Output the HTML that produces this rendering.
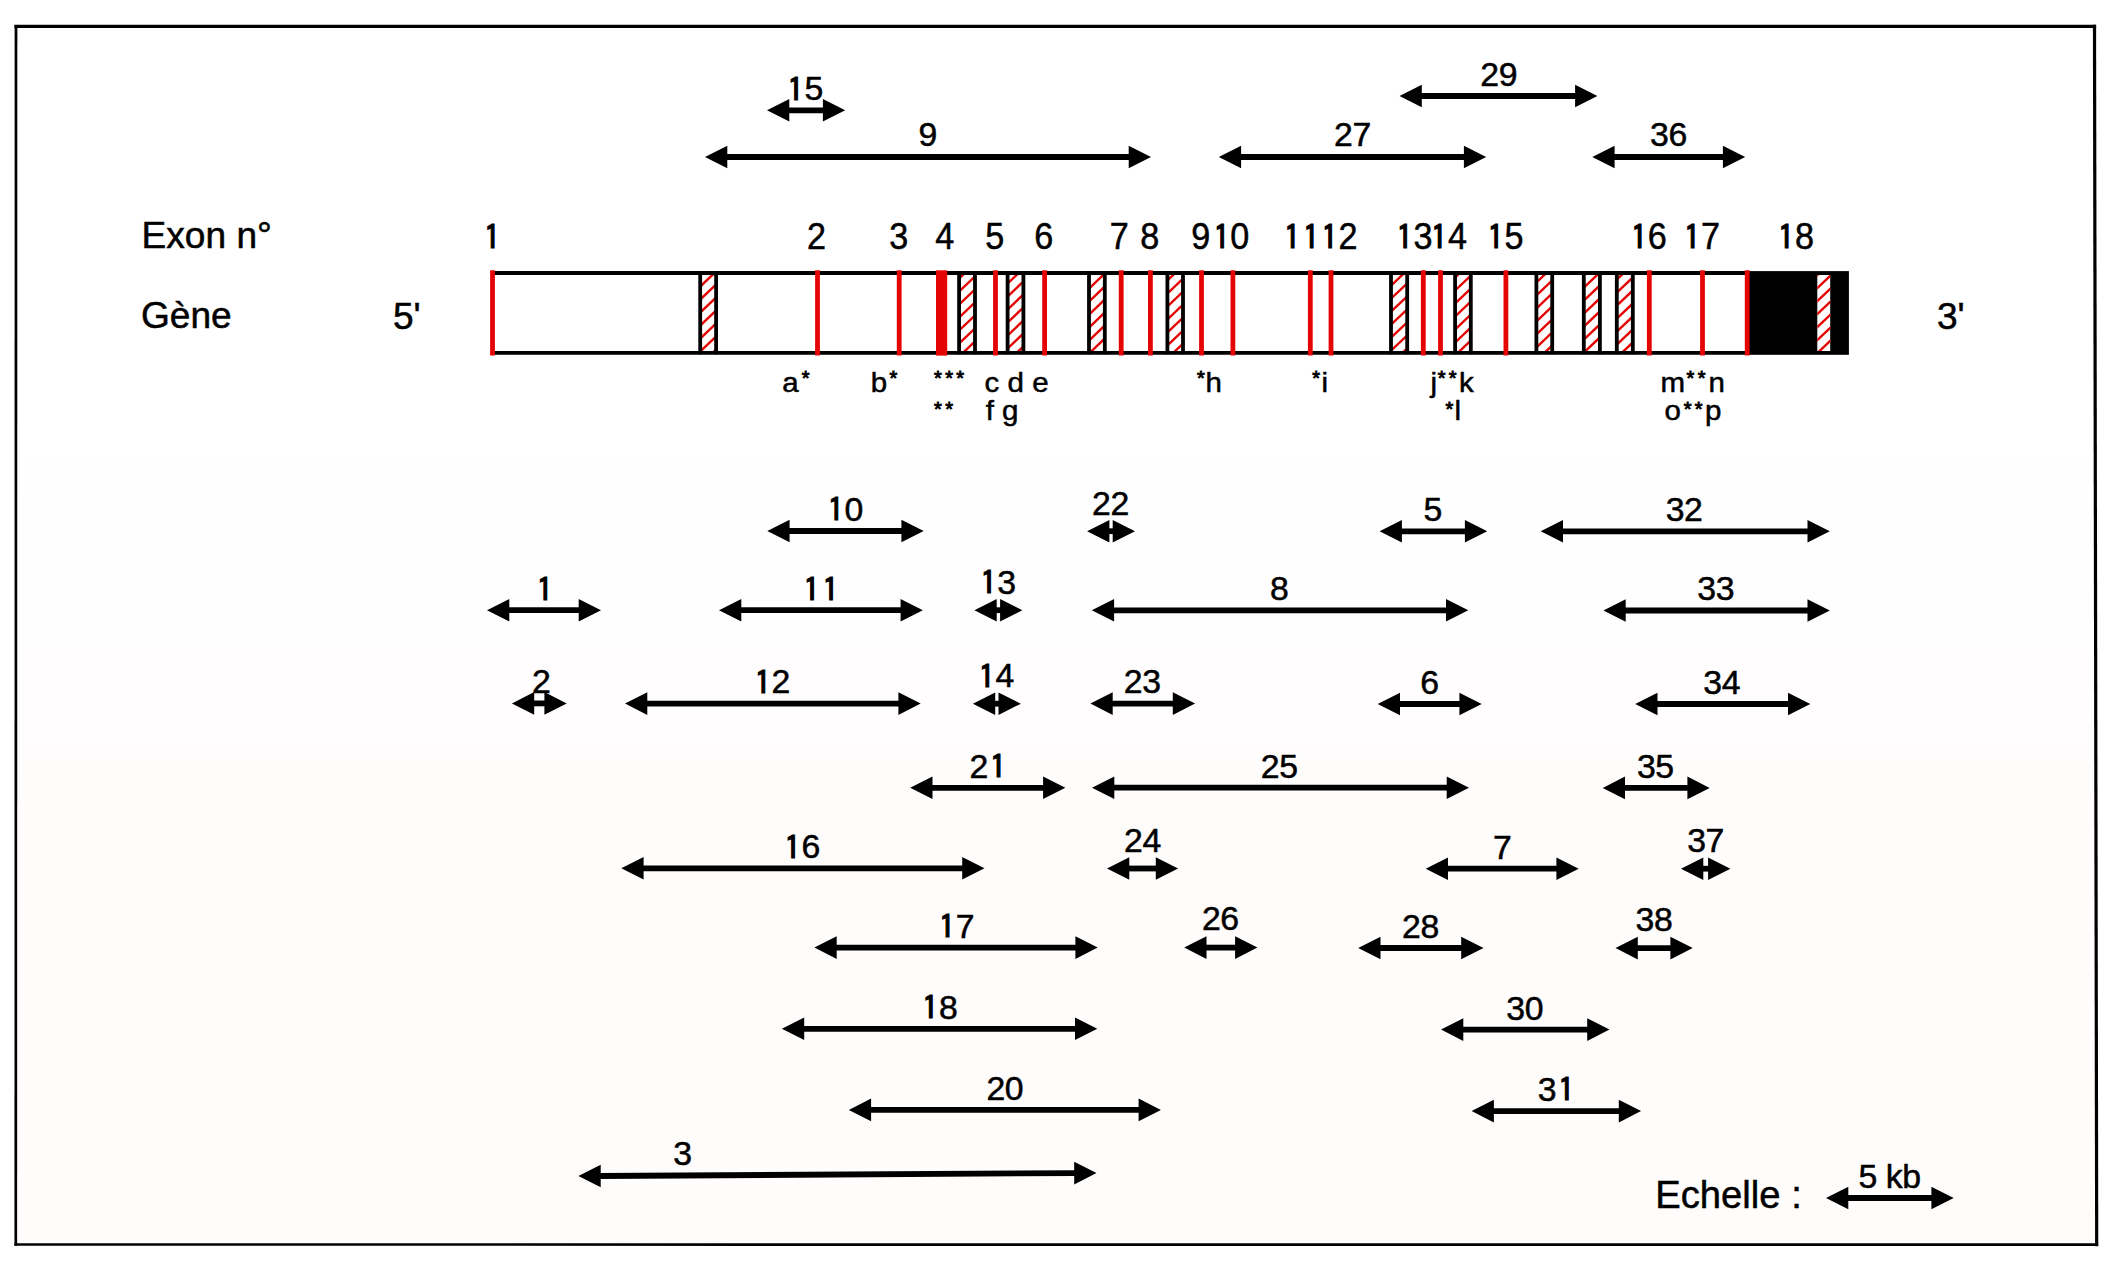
<!DOCTYPE html>
<html lang="fr"><head><meta charset="utf-8"><title>Carte du gène</title>
<style>html,body{margin:0;padding:0;background:#fff;}body{width:2120px;height:1268px;overflow:hidden;}svg{display:block;}text{font-family:"Liberation Sans", sans-serif;fill:#000;stroke:#000;stroke-width:0.5px;white-space:pre;}.ex{font-size:36px;letter-spacing:-1.2px;}.big{font-size:36px;}.ech{font-size:38.2px;}.an{font-size:32.5px;letter-spacing:-0.4px;}.sm{font-size:27.2px;}.st{font-size:20px;letter-spacing:3.4px;stroke-width:0.9px;}.one{font-family:"IPAGothic","Liberation Sans",sans-serif;stroke-width:1.1px;letter-spacing:0.4px;}</style></head><body>
<svg width="2120" height="1268" viewBox="0 0 2120 1268">
<rect width="2120" height="1268" fill="#fff"/>
<defs><linearGradient id="tint" x1="0" y1="0" x2="0" y2="1"><stop offset="0" stop-color="#ffdcdc" stop-opacity="0"/><stop offset="0.45" stop-color="#ffdcdc" stop-opacity="0.09"/><stop offset="1" stop-color="#ffdcdc" stop-opacity="0.09"/></linearGradient></defs>
<rect x="18" y="440" width="2077" height="803" fill="url(#tint)"/>
<g stroke="#000" fill="none" stroke-linecap="square"><path d="M16 26.4L2094.5 26.4" stroke-width="3.2"/><path d="M2094.5 26.4L2096.7 1244.6" stroke-width="3.2"/><path d="M2096.7 1244.6L15.8 1244.5" stroke-width="2.7"/><path d="M15.8 1244.5L16 26.4" stroke-width="2.7"/></g>
<text class="big" transform="translate(141.6 247.9) scale(1.03 1)">Exon n°</text>
<text class="big" transform="translate(141.0 328.4) scale(1.03 1)">Gène</text>
<text class="big" transform="translate(393.0 329.3) scale(1.03 1)">5'</text>
<text class="big" transform="translate(1937.0 329.0) scale(1.03 1)">3'</text>
<text class="ex" transform="translate(481.8 248.6) scale(0.95 1)"><tspan class="one" style="font-size:35.39px" dx="1.98" dy="1.8">1</tspan></text>
<text class="ex" transform="translate(807.1 248.6) scale(0.95 1)">2</text>
<text class="ex" transform="translate(889.2 248.6) scale(0.95 1)">3</text>
<text class="ex" transform="translate(935.2 248.6) scale(0.95 1)">4</text>
<text class="ex" transform="translate(985.2 248.6) scale(0.95 1)">5</text>
<text class="ex" transform="translate(1034.3 248.6) scale(0.95 1)">6</text>
<text class="ex" transform="translate(1109.7 248.6) scale(0.95 1)">7</text>
<text class="ex" transform="translate(1140.3 248.6) scale(0.95 1)">8</text>
<text class="ex" transform="translate(1191.2 248.6) scale(0.95 1)">9</text>
<text class="ex" transform="translate(1211.3 248.6) scale(0.95 1)"><tspan class="one" style="font-size:35.39px" dx="1.98" dy="1.8">1</tspan><tspan dy="-1.8">0</tspan></text>
<text class="ex" transform="translate(1281.8 248.6) scale(0.95 1)"><tspan class="one" style="font-size:35.39px" dx="1.98" dy="1.8">1</tspan><tspan class="one" style="font-size:35.39px" dx="1.98">1</tspan></text>
<text class="ex" transform="translate(1319.4 248.6) scale(0.95 1)"><tspan class="one" style="font-size:35.39px" dx="1.98" dy="1.8">1</tspan><tspan dy="-1.8">2</tspan></text>
<text class="ex" transform="translate(1394.4 248.6) scale(0.95 1)"><tspan class="one" style="font-size:35.39px" dx="1.98" dy="1.8">1</tspan><tspan dy="-1.8">3</tspan></text>
<text class="ex" transform="translate(1429.0 248.6) scale(0.95 1)"><tspan class="one" style="font-size:35.39px" dx="1.98" dy="1.8">1</tspan><tspan dy="-1.8">4</tspan></text>
<text class="ex" transform="translate(1485.4 248.6) scale(0.95 1)"><tspan class="one" style="font-size:35.39px" dx="1.98" dy="1.8">1</tspan><tspan dy="-1.8">5</tspan></text>
<text class="ex" transform="translate(1628.8 248.6) scale(0.95 1)"><tspan class="one" style="font-size:35.39px" dx="1.98" dy="1.8">1</tspan><tspan dy="-1.8">6</tspan></text>
<text class="ex" transform="translate(1681.9 248.6) scale(0.95 1)"><tspan class="one" style="font-size:35.39px" dx="1.98" dy="1.8">1</tspan><tspan dy="-1.8">7</tspan></text>
<text class="ex" transform="translate(1775.9 248.6) scale(0.95 1)"><tspan class="one" style="font-size:35.39px" dx="1.98" dy="1.8">1</tspan><tspan dy="-1.8">8</tspan></text>
<defs>
<clipPath id="h0"><rect x="700.2" y="273.0" width="15.9" height="79.8"/></clipPath>
<clipPath id="h1"><rect x="959.1" y="273.0" width="15.9" height="79.8"/></clipPath>
<clipPath id="h2"><rect x="1007.6" y="273.0" width="15.8" height="79.8"/></clipPath>
<clipPath id="h3"><rect x="1089.0" y="273.0" width="15.8" height="79.8"/></clipPath>
<clipPath id="h4"><rect x="1167.4" y="273.0" width="15.6" height="79.8"/></clipPath>
<clipPath id="h5"><rect x="1391.0" y="273.0" width="16.2" height="79.8"/></clipPath>
<clipPath id="h6"><rect x="1455.1" y="273.0" width="15.7" height="79.8"/></clipPath>
<clipPath id="h7"><rect x="1536.4" y="273.0" width="15.8" height="79.8"/></clipPath>
<clipPath id="h8"><rect x="1583.8" y="273.0" width="16.1" height="79.8"/></clipPath>
<clipPath id="h9"><rect x="1616.8" y="273.0" width="16.0" height="79.8"/></clipPath>
<clipPath id="hk"><rect x="1817.3" y="275" width="12.9" height="76"/></clipPath>
</defs>
<rect x="1748.5" y="271.1" width="100.4" height="83.7" fill="#000"/>
<rect x="1817.3" y="275" width="12.9" height="76" fill="#fff"/>
<path d="M1814.3 265.0L1833.2 247.0M1814.3 278.0L1833.2 260.0M1814.3 291.0L1833.2 273.0M1814.3 304.0L1833.2 286.0M1814.3 317.0L1833.2 299.0M1814.3 330.0L1833.2 312.0M1814.3 343.0L1833.2 325.0M1814.3 356.0L1833.2 338.0M1814.3 369.0L1833.2 351.0M1814.3 382.0L1833.2 364.0" stroke="#e50404" stroke-width="2.4" fill="none" clip-path="url(#hk)"/>
<path d="M697.2 263.4L719.1 242.6M697.2 276.4L719.1 255.6M697.2 289.4L719.1 268.6M697.2 302.4L719.1 281.6M697.2 315.4L719.1 294.6M697.2 328.4L719.1 307.6M697.2 341.4L719.1 320.6M697.2 354.4L719.1 333.6M697.2 367.4L719.1 346.6M697.2 380.4L719.1 359.6" stroke="#e50404" stroke-width="2.4" fill="none" clip-path="url(#h0)"/>
<path d="M956.1 268.4L978.0 247.6M956.1 281.4L978.0 260.6M956.1 294.4L978.0 273.6M956.1 307.4L978.0 286.6M956.1 320.4L978.0 299.6M956.1 333.4L978.0 312.6M956.1 346.4L978.0 325.6M956.1 359.4L978.0 338.6M956.1 372.4L978.0 351.6M956.1 385.4L978.0 364.6" stroke="#e50404" stroke-width="2.4" fill="none" clip-path="url(#h1)"/>
<path d="M1004.6 273.4L1026.4 252.6M1004.6 286.4L1026.4 265.6M1004.6 299.4L1026.4 278.6M1004.6 312.4L1026.4 291.6M1004.6 325.4L1026.4 304.6M1004.6 338.4L1026.4 317.6M1004.6 351.4L1026.4 330.6M1004.6 364.4L1026.4 343.6M1004.6 377.4L1026.4 356.6M1004.6 390.4L1026.4 369.6" stroke="#e50404" stroke-width="2.4" fill="none" clip-path="url(#h2)"/>
<path d="M1086.0 265.4L1107.8 244.6M1086.0 278.4L1107.8 257.6M1086.0 291.4L1107.8 270.6M1086.0 304.4L1107.8 283.6M1086.0 317.4L1107.8 296.6M1086.0 330.4L1107.8 309.6M1086.0 343.4L1107.8 322.6M1086.0 356.4L1107.8 335.6M1086.0 369.4L1107.8 348.6M1086.0 382.4L1107.8 361.6" stroke="#e50404" stroke-width="2.4" fill="none" clip-path="url(#h3)"/>
<path d="M1164.4 270.3L1186.0 249.7M1164.4 283.3L1186.0 262.7M1164.4 296.3L1186.0 275.7M1164.4 309.3L1186.0 288.7M1164.4 322.3L1186.0 301.7M1164.4 335.3L1186.0 314.7M1164.4 348.3L1186.0 327.7M1164.4 361.3L1186.0 340.7M1164.4 374.3L1186.0 353.7M1164.4 387.3L1186.0 366.7" stroke="#e50404" stroke-width="2.4" fill="none" clip-path="url(#h4)"/>
<path d="M1388.0 275.5L1410.2 254.5M1388.0 288.5L1410.2 267.5M1388.0 301.5L1410.2 280.5M1388.0 314.5L1410.2 293.5M1388.0 327.5L1410.2 306.5M1388.0 340.5L1410.2 319.5M1388.0 353.5L1410.2 332.5M1388.0 366.5L1410.2 345.5M1388.0 379.5L1410.2 358.5M1388.0 392.5L1410.2 371.5" stroke="#e50404" stroke-width="2.4" fill="none" clip-path="url(#h5)"/>
<path d="M1452.1 267.3L1473.8 246.7M1452.1 280.3L1473.8 259.7M1452.1 293.3L1473.8 272.7M1452.1 306.3L1473.8 285.7M1452.1 319.3L1473.8 298.7M1452.1 332.3L1473.8 311.7M1452.1 345.3L1473.8 324.7M1452.1 358.3L1473.8 337.7M1452.1 371.3L1473.8 350.7M1452.1 384.3L1473.8 363.7" stroke="#e50404" stroke-width="2.4" fill="none" clip-path="url(#h6)"/>
<path d="M1533.4 272.4L1555.2 251.6M1533.4 285.4L1555.2 264.6M1533.4 298.4L1555.2 277.6M1533.4 311.4L1555.2 290.6M1533.4 324.4L1555.2 303.6M1533.4 337.4L1555.2 316.6M1533.4 350.4L1555.2 329.6M1533.4 363.4L1555.2 342.6M1533.4 376.4L1555.2 355.6M1533.4 389.4L1555.2 368.6" stroke="#e50404" stroke-width="2.4" fill="none" clip-path="url(#h7)"/>
<path d="M1580.8 264.5L1602.9 243.5M1580.8 277.5L1602.9 256.5M1580.8 290.5L1602.9 269.5M1580.8 303.5L1602.9 282.5M1580.8 316.5L1602.9 295.5M1580.8 329.5L1602.9 308.5M1580.8 342.5L1602.9 321.5M1580.8 355.5L1602.9 334.5M1580.8 368.5L1602.9 347.5M1580.8 381.5L1602.9 360.5" stroke="#e50404" stroke-width="2.4" fill="none" clip-path="url(#h8)"/>
<path d="M1613.8 269.4L1635.8 248.6M1613.8 282.4L1635.8 261.6M1613.8 295.4L1635.8 274.6M1613.8 308.4L1635.8 287.6M1613.8 321.4L1635.8 300.6M1613.8 334.4L1635.8 313.6M1613.8 347.4L1635.8 326.6M1613.8 360.4L1635.8 339.6M1613.8 373.4L1635.8 352.6M1613.8 386.4L1635.8 365.6" stroke="#e50404" stroke-width="2.4" fill="none" clip-path="url(#h9)"/>
<path d="M492.0 273.0H1750M492.0 352.8H1750" stroke="#000" stroke-width="3.8" fill="none"/>
<path d="M700.2 271.6V354.3M716.1 271.6V354.3M959.1 271.6V354.3M975.0 271.6V354.3M1007.6 271.6V354.3M1023.4 271.6V354.3M1089.0 271.6V354.3M1104.8 271.6V354.3M1167.4 271.6V354.3M1183.0 271.6V354.3M1391.0 271.6V354.3M1407.2 271.6V354.3M1455.1 271.6V354.3M1470.8 271.6V354.3M1536.4 271.6V354.3M1552.2 271.6V354.3M1583.8 271.6V354.3M1599.9 271.6V354.3M1616.8 271.6V354.3M1632.8 271.6V354.3" stroke="#000" stroke-width="3.8" fill="none"/>
<path d="M492.5 270.3V355.6M817.5 270.3V355.6M899.2 270.3V355.6M995.5 270.3V355.6M1044.6 270.3V355.6M1121.2 270.3V355.6M1150.4 270.3V355.6M1201.5 270.3V355.6M1232.9 270.3V355.6M1310.3 270.3V355.6M1331.0 270.3V355.6M1423.3 270.3V355.6M1440.5 270.3V355.6M1505.9 270.3V355.6M1649.3 270.3V355.6M1702.5 270.3V355.6M1747.2 270.3V355.6" stroke="#e50404" stroke-width="4.8" fill="none"/>
<rect x="936" y="270.3" width="11.2" height="85.3" fill="#e50404"/>
<text class="sm" transform="translate(782.2 391.6) scale(1.085 1)">a</text>
<text class="st" x="801.7" y="385.3">*</text>
<text class="sm" transform="translate(870.7 391.6) scale(1.085 1)">b</text>
<text class="st" x="889.5" y="385.3">*</text>
<text class="st" x="934.0" y="385.3">***</text>
<text class="sm" transform="translate(984.6 391.6) scale(1.085 1)">c d e</text>
<text class="st" x="1196.9" y="385.3">*</text>
<text class="sm" transform="translate(1205.6 391.6) scale(1.085 1)">h</text>
<text class="st" x="1312.2" y="385.3">*</text>
<text class="sm" transform="translate(1321.6 391.6) scale(1.085 1)">i</text>
<text class="sm" transform="translate(1430.5 391.6) scale(1.085 1)">j</text>
<text class="st" x="1437.7" y="385.3">**</text>
<text class="sm" transform="translate(1458.9 391.6) scale(1.085 1)">k</text>
<text class="sm" transform="translate(1660.4 391.6) scale(1.085 1)">m</text>
<text class="st" x="1686.5" y="385.3">**</text>
<text class="sm" transform="translate(1708.5 391.6) scale(1.085 1)">n</text>
<text class="st" x="934.0" y="415.7">**</text>
<text class="sm" transform="translate(985.7 420.4) scale(1.085 1)">f g</text>
<text class="st" x="1445.6" y="415.7">*</text>
<text class="sm" transform="translate(1454.6 420.4) scale(1.085 1)">l</text>
<text class="sm" transform="translate(1664.6 420.4) scale(1.085 1)">o</text>
<text class="st" x="1683.7" y="415.7">**</text>
<text class="sm" transform="translate(1704.9 420.4) scale(1.085 1)">p</text>
<path d="M1420.8 96.0L1576.1 96.0" stroke="#000" stroke-width="5.8" fill="none"/>
<path d="M1399.5 96.0l22.3 -11.3v22.6zM1597.4 96.0l-22.3 -11.3v22.6z" fill="#000"/>
<text class="an" transform="translate(1480.3 86.0) scale(1.04 1)">29</text>
<path d="M788.3 110.3L823.9 110.3" stroke="#000" stroke-width="5.8" fill="none"/>
<path d="M767.0 110.3l22.3 -11.3v22.6zM845.2 110.3l-22.3 -11.3v22.6z" fill="#000"/>
<text class="an" transform="translate(785.5 100.1) scale(1.04 1)"><tspan class="one" style="font-size:31.95px" dx="1.79" dy="1.63">1</tspan><tspan dy="-1.63">5</tspan></text>
<path d="M726.3 157.0L1129.7 157.0" stroke="#000" stroke-width="5.8" fill="none"/>
<path d="M705.0 157.0l22.3 -11.3v22.6zM1151.0 157.0l-22.3 -11.3v22.6z" fill="#000"/>
<text class="an" transform="translate(918.5 146.3) scale(1.04 1)">9</text>
<path d="M1240.1 157.0L1464.9 157.0" stroke="#000" stroke-width="5.8" fill="none"/>
<path d="M1218.8 157.0l22.3 -11.3v22.6zM1486.2 157.0l-22.3 -11.3v22.6z" fill="#000"/>
<text class="an" transform="translate(1334.1 146.3) scale(1.04 1)">27</text>
<path d="M1613.6 157.0L1723.9 157.0" stroke="#000" stroke-width="5.8" fill="none"/>
<path d="M1592.3 157.0l22.3 -11.3v22.6zM1745.2 157.0l-22.3 -11.3v22.6z" fill="#000"/>
<text class="an" transform="translate(1650.1 146.3) scale(1.04 1)">36</text>
<path d="M788.6 531.0L902.4 531.0" stroke="#000" stroke-width="5.8" fill="none"/>
<path d="M767.3 531.0l22.3 -11.3v22.6zM923.7 531.0l-22.3 -11.3v22.6z" fill="#000"/>
<text class="an" transform="translate(825.6 520.6) scale(1.04 1)"><tspan class="one" style="font-size:31.95px" dx="1.79" dy="1.63">1</tspan><tspan dy="-1.63">0</tspan></text>
<path d="M1108.4 531.2L1113.7 531.2" stroke="#000" stroke-width="5.8" fill="none"/>
<path d="M1087.1 531.2l22.3 -11.3v22.6zM1135.0 531.2l-22.3 -11.3v22.6z" fill="#000"/>
<text class="an" transform="translate(1092.1 514.7) scale(1.04 1)">22</text>
<path d="M1400.9 531.3L1465.9 531.3" stroke="#000" stroke-width="5.8" fill="none"/>
<path d="M1379.6 531.3l22.3 -11.3v22.6zM1487.2 531.3l-22.3 -11.3v22.6z" fill="#000"/>
<text class="an" transform="translate(1423.6 521.0) scale(1.04 1)">5</text>
<path d="M1562.0 531.3L1808.5 531.3" stroke="#000" stroke-width="5.8" fill="none"/>
<path d="M1540.7 531.3l22.3 -11.3v22.6zM1829.8 531.3l-22.3 -11.3v22.6z" fill="#000"/>
<text class="an" transform="translate(1665.7 521.0) scale(1.04 1)">32</text>
<path d="M508.3 610.2L579.7 610.2" stroke="#000" stroke-width="5.8" fill="none"/>
<path d="M487.0 610.2l22.3 -11.3v22.6zM601.0 610.2l-22.3 -11.3v22.6z" fill="#000"/>
<text class="an" transform="translate(534.6 600.1) scale(1.04 1)"><tspan class="one" style="font-size:31.95px" dx="1.79" dy="1.63">1</tspan></text>
<path d="M740.3 610.2L901.6 610.2" stroke="#000" stroke-width="5.8" fill="none"/>
<path d="M719.0 610.2l22.3 -11.3v22.6zM922.9 610.2l-22.3 -11.3v22.6z" fill="#000"/>
<text class="an" transform="translate(801.5 600.1) scale(1.04 1)"><tspan class="one" style="font-size:31.95px" dx="1.79" dy="1.63">1</tspan><tspan class="one" style="font-size:31.95px" dx="1.79">1</tspan></text>
<path d="M995.7 610.2L1001.1 610.2" stroke="#000" stroke-width="5.8" fill="none"/>
<path d="M974.4 610.2l22.3 -11.3v22.6zM1022.4 610.2l-22.3 -11.3v22.6z" fill="#000"/>
<text class="an" transform="translate(978.4 593.8) scale(1.04 1)"><tspan class="one" style="font-size:31.95px" dx="1.79" dy="1.63">1</tspan><tspan dy="-1.63">3</tspan></text>
<path d="M1113.1 610.3L1447.0 610.3" stroke="#000" stroke-width="5.8" fill="none"/>
<path d="M1091.8 610.3l22.3 -11.3v22.6zM1468.3 610.3l-22.3 -11.3v22.6z" fill="#000"/>
<text class="an" transform="translate(1270.1 600.2) scale(1.04 1)">8</text>
<path d="M1624.7 610.5L1808.5 610.5" stroke="#000" stroke-width="5.8" fill="none"/>
<path d="M1603.4 610.5l22.3 -11.3v22.6zM1829.8 610.5l-22.3 -11.3v22.6z" fill="#000"/>
<text class="an" transform="translate(1697.3 600.4) scale(1.04 1)">33</text>
<path d="M533.2 703.4L545.4 703.4" stroke="#000" stroke-width="5.8" fill="none"/>
<path d="M511.9 703.4l22.3 -11.3v22.6zM566.7 703.4l-22.3 -11.3v22.6z" fill="#000"/>
<text class="an" transform="translate(532.0 692.6) scale(1.04 1)">2</text>
<path d="M646.3 703.6L899.4 703.6" stroke="#000" stroke-width="5.8" fill="none"/>
<path d="M625.0 703.6l22.3 -11.3v22.6zM920.7 703.6l-22.3 -11.3v22.6z" fill="#000"/>
<text class="an" transform="translate(752.7 693.2) scale(1.04 1)"><tspan class="one" style="font-size:31.95px" dx="1.79" dy="1.63">1</tspan><tspan dy="-1.63">2</tspan></text>
<path d="M994.2 703.7L999.5 703.7" stroke="#000" stroke-width="5.8" fill="none"/>
<path d="M972.9 703.7l22.3 -11.3v22.6zM1020.8 703.7l-22.3 -11.3v22.6z" fill="#000"/>
<text class="an" transform="translate(976.6 687.2) scale(1.04 1)"><tspan class="one" style="font-size:31.95px" dx="1.79" dy="1.63">1</tspan><tspan dy="-1.63">4</tspan></text>
<path d="M1111.7 703.6L1173.8 703.6" stroke="#000" stroke-width="5.8" fill="none"/>
<path d="M1090.4 703.6l22.3 -11.3v22.6zM1195.1 703.6l-22.3 -11.3v22.6z" fill="#000"/>
<text class="an" transform="translate(1123.8 693.3) scale(1.04 1)">23</text>
<path d="M1399.0 704.0L1460.4 704.0" stroke="#000" stroke-width="5.8" fill="none"/>
<path d="M1377.7 704.0l22.3 -11.3v22.6zM1481.7 704.0l-22.3 -11.3v22.6z" fill="#000"/>
<text class="an" transform="translate(1420.2 694.0) scale(1.04 1)">6</text>
<path d="M1656.5 704.0L1789.0 704.0" stroke="#000" stroke-width="5.8" fill="none"/>
<path d="M1635.2 704.0l22.3 -11.3v22.6zM1810.3 704.0l-22.3 -11.3v22.6z" fill="#000"/>
<text class="an" transform="translate(1703.3 694.0) scale(1.04 1)">34</text>
<path d="M931.5 787.8L1044.1 787.8" stroke="#000" stroke-width="5.8" fill="none"/>
<path d="M910.2 787.8l22.3 -11.3v22.6zM1065.4 787.8l-22.3 -11.3v22.6z" fill="#000"/>
<text class="an" transform="translate(969.5 777.7) scale(1.04 1)">2<tspan class="one" style="font-size:31.95px" dx="1.79" dy="1.63">1</tspan></text>
<path d="M1113.3 787.7L1447.7 787.7" stroke="#000" stroke-width="5.8" fill="none"/>
<path d="M1092.0 787.7l22.3 -11.3v22.6zM1469.0 787.7l-22.3 -11.3v22.6z" fill="#000"/>
<text class="an" transform="translate(1260.8 777.7) scale(1.04 1)">25</text>
<path d="M1624.0 787.9L1688.4 787.9" stroke="#000" stroke-width="5.8" fill="none"/>
<path d="M1602.7 787.9l22.3 -11.3v22.6zM1709.7 787.9l-22.3 -11.3v22.6z" fill="#000"/>
<text class="an" transform="translate(1637.0 777.8) scale(1.04 1)">35</text>
<path d="M642.6 868.3L963.2 868.3" stroke="#000" stroke-width="5.8" fill="none"/>
<path d="M621.3 868.3l22.3 -11.3v22.6zM984.5 868.3l-22.3 -11.3v22.6z" fill="#000"/>
<text class="an" transform="translate(782.5 858.2) scale(1.04 1)"><tspan class="one" style="font-size:31.95px" dx="1.79" dy="1.63">1</tspan><tspan dy="-1.63">6</tspan></text>
<path d="M1128.3 868.5L1156.8 868.5" stroke="#000" stroke-width="5.8" fill="none"/>
<path d="M1107.0 868.5l22.3 -11.3v22.6zM1178.1 868.5l-22.3 -11.3v22.6z" fill="#000"/>
<text class="an" transform="translate(1124.1 852.2) scale(1.04 1)">24</text>
<path d="M1447.0 868.7L1557.4 868.7" stroke="#000" stroke-width="5.8" fill="none"/>
<path d="M1425.7 868.7l22.3 -11.3v22.6zM1578.7 868.7l-22.3 -11.3v22.6z" fill="#000"/>
<text class="an" transform="translate(1493.0 858.6) scale(1.04 1)">7</text>
<path d="M1702.3 868.7L1709.1 868.7" stroke="#000" stroke-width="5.8" fill="none"/>
<path d="M1681.0 868.7l22.3 -11.3v22.6zM1730.4 868.7l-22.3 -11.3v22.6z" fill="#000"/>
<text class="an" transform="translate(1687.2 852.4) scale(1.04 1)">37</text>
<path d="M835.7 947.6L1076.4 947.6" stroke="#000" stroke-width="5.8" fill="none"/>
<path d="M814.4 947.6l22.3 -11.3v22.6zM1097.7 947.6l-22.3 -11.3v22.6z" fill="#000"/>
<text class="an" transform="translate(936.9 937.5) scale(1.04 1)"><tspan class="one" style="font-size:31.95px" dx="1.79" dy="1.63">1</tspan><tspan dy="-1.63">7</tspan></text>
<path d="M1205.5 947.6L1236.1 947.6" stroke="#000" stroke-width="5.8" fill="none"/>
<path d="M1184.2 947.6l22.3 -11.3v22.6zM1257.4 947.6l-22.3 -11.3v22.6z" fill="#000"/>
<text class="an" transform="translate(1201.9 930.1) scale(1.04 1)">26</text>
<path d="M1379.5 948.0L1462.2 948.0" stroke="#000" stroke-width="5.8" fill="none"/>
<path d="M1358.2 948.0l22.3 -11.3v22.6zM1483.5 948.0l-22.3 -11.3v22.6z" fill="#000"/>
<text class="an" transform="translate(1402.1 937.7) scale(1.04 1)">28</text>
<path d="M1636.8 948.1L1671.4 948.1" stroke="#000" stroke-width="5.8" fill="none"/>
<path d="M1615.5 948.1l22.3 -11.3v22.6zM1692.7 948.1l-22.3 -11.3v22.6z" fill="#000"/>
<text class="an" transform="translate(1635.6 930.5) scale(1.04 1)">38</text>
<path d="M803.2 1028.8L1076.0 1028.8" stroke="#000" stroke-width="5.8" fill="none"/>
<path d="M781.9 1028.8l22.3 -11.3v22.6zM1097.3 1028.8l-22.3 -11.3v22.6z" fill="#000"/>
<text class="an" transform="translate(920.2 1018.6) scale(1.04 1)"><tspan class="one" style="font-size:31.95px" dx="1.79" dy="1.63">1</tspan><tspan dy="-1.63">8</tspan></text>
<path d="M1462.3 1029.6L1588.2 1029.6" stroke="#000" stroke-width="5.8" fill="none"/>
<path d="M1441.0 1029.6l22.3 -11.3v22.6zM1609.5 1029.6l-22.3 -11.3v22.6z" fill="#000"/>
<text class="an" transform="translate(1506.3 1019.6) scale(1.04 1)">30</text>
<path d="M870.1 1109.9L1139.6 1109.9" stroke="#000" stroke-width="5.8" fill="none"/>
<path d="M848.8 1109.9l22.3 -11.3v22.6zM1160.9 1109.9l-22.3 -11.3v22.6z" fill="#000"/>
<text class="an" transform="translate(986.5 1099.8) scale(1.04 1)">20</text>
<path d="M1492.9 1111.1L1619.8 1111.1" stroke="#000" stroke-width="5.8" fill="none"/>
<path d="M1471.6 1111.1l22.3 -11.3v22.6zM1641.1 1111.1l-22.3 -11.3v22.6z" fill="#000"/>
<text class="an" transform="translate(1537.8 1100.8) scale(1.04 1)">3<tspan class="one" style="font-size:31.95px" dx="1.79" dy="1.63">1</tspan></text>
<path d="M599.7 1176.0L1075.2 1173.1" stroke="#000" stroke-width="5.8" fill="none"/>
<path d="M578.4 1176.0l22.3 -11.3v22.6zM1096.5 1173.1l-22.3 -11.3v22.6z" fill="#000"/>
<text class="an" transform="translate(673.3 1164.7) scale(1.04 1)">3</text>
<path d="M1847.3 1198.0L1932.4 1198.0" stroke="#000" stroke-width="5.8" fill="none"/>
<path d="M1826.0 1198.0l22.3 -11.3v22.6zM1953.7 1198.0l-22.3 -11.3v22.6z" fill="#000"/>
<text class="an" transform="translate(1858.5 1187.9) scale(1.04 1)">5 kb</text>
<text class="ech" x="1655.3" y="1208.0">Echelle :</text>
</svg></body></html>
